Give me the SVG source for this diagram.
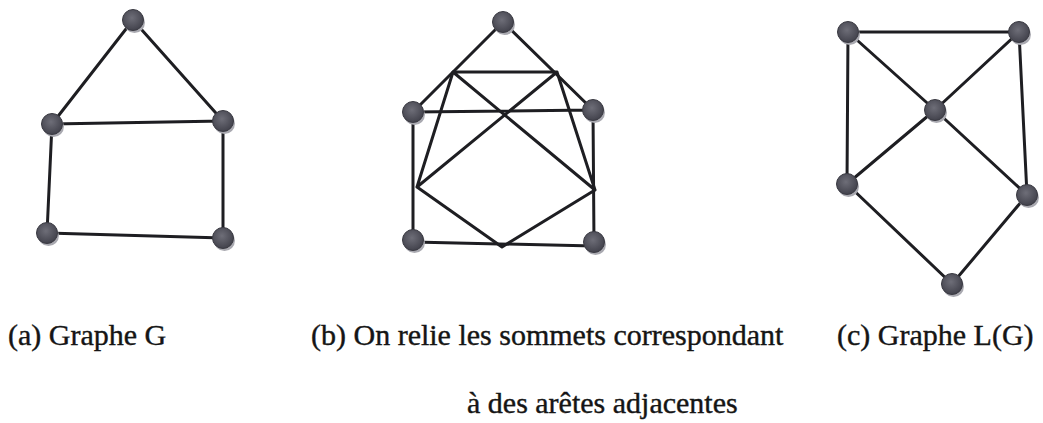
<svg xmlns="http://www.w3.org/2000/svg" width="1043" height="423" viewBox="0 0 1043 423">
<style>
.e{stroke:#1e1e22;stroke-width:3;stroke-linecap:round;fill:none}
.sh{fill:#a9a9b0}
.nd{fill:url(#g);stroke:#3a3a42;stroke-width:1}
.t{font-family:"Liberation Serif","Times New Roman",serif;font-size:30px;fill:#151515;stroke:#151515;stroke-width:0.4}
</style>
<defs>
<radialGradient id="g" cx="0.45" cy="0.4" r="0.6">
<stop offset="0" stop-color="#6e6e78"/>
<stop offset="1" stop-color="#42424c"/>
</radialGradient>
<g id="n"><circle class="sh" cx="1.5" cy="2.5" r="10.5"/><circle class="nd" r="10.5"/></g>
</defs>
<rect width="1043" height="423" fill="#fff"/>
<g id="connectors">
<path class="e" d="M133 20L52 124M133 20L223 121M52 124L223 121M52 124L47 233M223 121L223 238M47 233L223 238"/>
<path class="e" d="M503 22L413 112M503 22L593 110M413 112L593 110M413 112L413 242M593 110L594 244M413 242L594 246"/>
<path class="e" d="M453 72L557 72M453 72L417 187M453 72L595 190M557 72L417 187M557 72L595 190M417 187L502 247M595 190L502 247"/>
<path class="e" d="M848 32L1019 32M848 32L847 184M848 32L935 110M1019 32L935 110M1019 32L1027 195M935 110L847 184M935 110L1027 195M847 184L952 284M1027 195L952 284"/>
</g>
<g id="a-top"><use href="#n" x="133" y="20"/></g>
<g id="a-left"><use href="#n" x="52" y="124"/></g>
<g id="a-right"><use href="#n" x="223" y="121"/></g>
<g id="a-bl"><use href="#n" x="47" y="233"/></g>
<g id="a-br"><use href="#n" x="223" y="238"/></g>
<g id="b-top"><use href="#n" x="503" y="22"/></g>
<g id="b-left"><use href="#n" x="413" y="112"/></g>
<g id="b-right"><use href="#n" x="593" y="110"/></g>
<g id="b-bl"><use href="#n" x="413" y="240"/></g>
<g id="b-br"><use href="#n" x="594" y="242"/></g>
<g id="c-tl"><use href="#n" x="848" y="32"/></g>
<g id="c-tr"><use href="#n" x="1019" y="32"/></g>
<g id="c-c"><use href="#n" x="935" y="110"/></g>
<g id="c-l"><use href="#n" x="847" y="184"/></g>
<g id="c-r"><use href="#n" x="1027" y="195"/></g>
<g id="c-b"><use href="#n" x="952" y="284"/></g>
<g id="labels">
<text class="t" x="8" y="345">(a) Graphe G</text>
<text class="t" x="311" y="345">(b) On relie les sommets correspondant</text>
<text class="t" x="837" y="345">(c) Graphe L(G)</text>
<text class="t" x="467" y="413">à des arêtes adjacentes</text>
</g>
</svg>
